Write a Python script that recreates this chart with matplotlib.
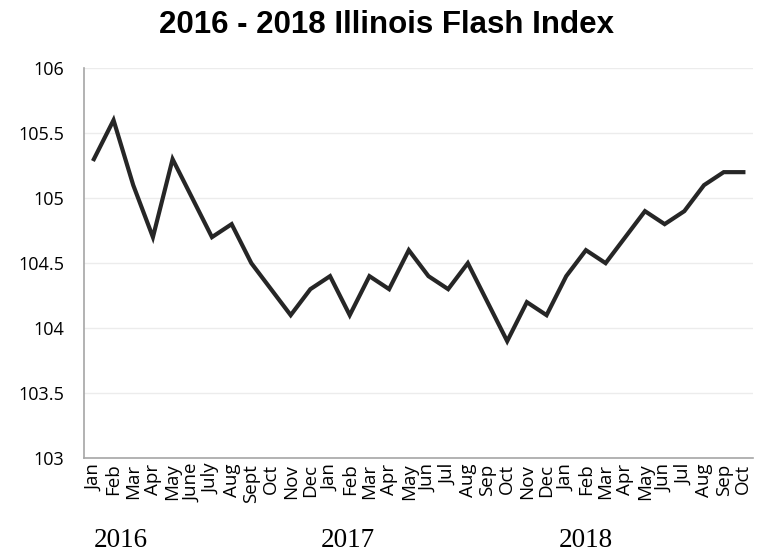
import matplotlib
matplotlib.use("Agg")
import matplotlib.pyplot as plt
import matplotlib.transforms as mtransforms

# Monthly labels (Jan 2016 - Oct 2018)
months = ["Jan", "Feb", "Mar", "Apr", "May", "June", "July", "Aug", "Sept", "Oct", "Nov", "Dec",
          "Jan", "Feb", "Mar", "Apr", "May", "Jun", "Jul", "Aug", "Sep", "Oct", "Nov", "Dec",
          "Jan", "Feb", "Mar", "Apr", "May", "Jun", "Jul", "Aug", "Sep", "Oct"]
index_values = [105.3, 105.6, 105.1, 104.7, 105.3, 105.0, 104.7, 104.8, 104.5, 104.3, 104.1, 104.3,
                104.4, 104.1, 104.4, 104.3, 104.6, 104.4, 104.3, 104.5, 104.2, 103.9, 104.2, 104.1,
                104.4, 104.6, 104.5, 104.7, 104.9, 104.8, 104.9, 105.1, 105.2, 105.2]
years = ["2016", "2017", "2018"]
year_pos = [1.35, 12.9, 25.0]
y_ticks = [103, 103.5, 104, 104.5, 105, 105.5, 106]
y_labels = ["103", "103.5", "104", "104.5", "105", "105.5", "106"]

fig = plt.figure(figsize=(7.57, 5.54), dpi=100)
ax = fig.add_axes([0.111, 0.173, 0.884, 0.704])

x = list(range(len(months)))
ax.plot(x, index_values, color="#262626", linewidth=3, solid_joinstyle="miter")

ax.set_xlim(-0.5, len(months) - 0.5)
ax.set_ylim(103, 106)
ax.set_yticks(y_ticks)
ax.set_yticklabels(y_labels, fontfamily="Open Sans", fontsize=13)
ax.set_xticks(x)
ax.set_xticklabels(months, rotation=90, fontfamily="Open Sans", fontsize=13.5)
ax.tick_params(axis="x", length=0, pad=4)
ax.tick_params(axis="y", length=0, pad=14)

ax.grid(axis="y", color="#ececec", linewidth=1)
ax.set_axisbelow(True)
for side in ["top", "right"]:
    ax.spines[side].set_visible(False)
ax.spines["left"].set_color("#a6a6a6")
ax.spines["bottom"].set_color("#a6a6a6")
ax.spines["left"].set_linewidth(1.2)
ax.spines["bottom"].set_linewidth(1.2)

# year labels under the month labels
trans = mtransforms.blended_transform_factory(ax.transData, fig.transFigure)
for yr, pos in zip(years, year_pos):
    fig.text(pos, 0.024, yr, transform=trans, ha="center", va="center",
             fontfamily="Liberation Serif", fontsize=19.5)

fig.suptitle("2016 - 2018 Illinois Flash Index", x=0.51, y=0.982, va="top",
             fontfamily="Liberation Sans", fontweight="bold", fontsize=22.5)

fig.savefig("out.png", dpi=100)
